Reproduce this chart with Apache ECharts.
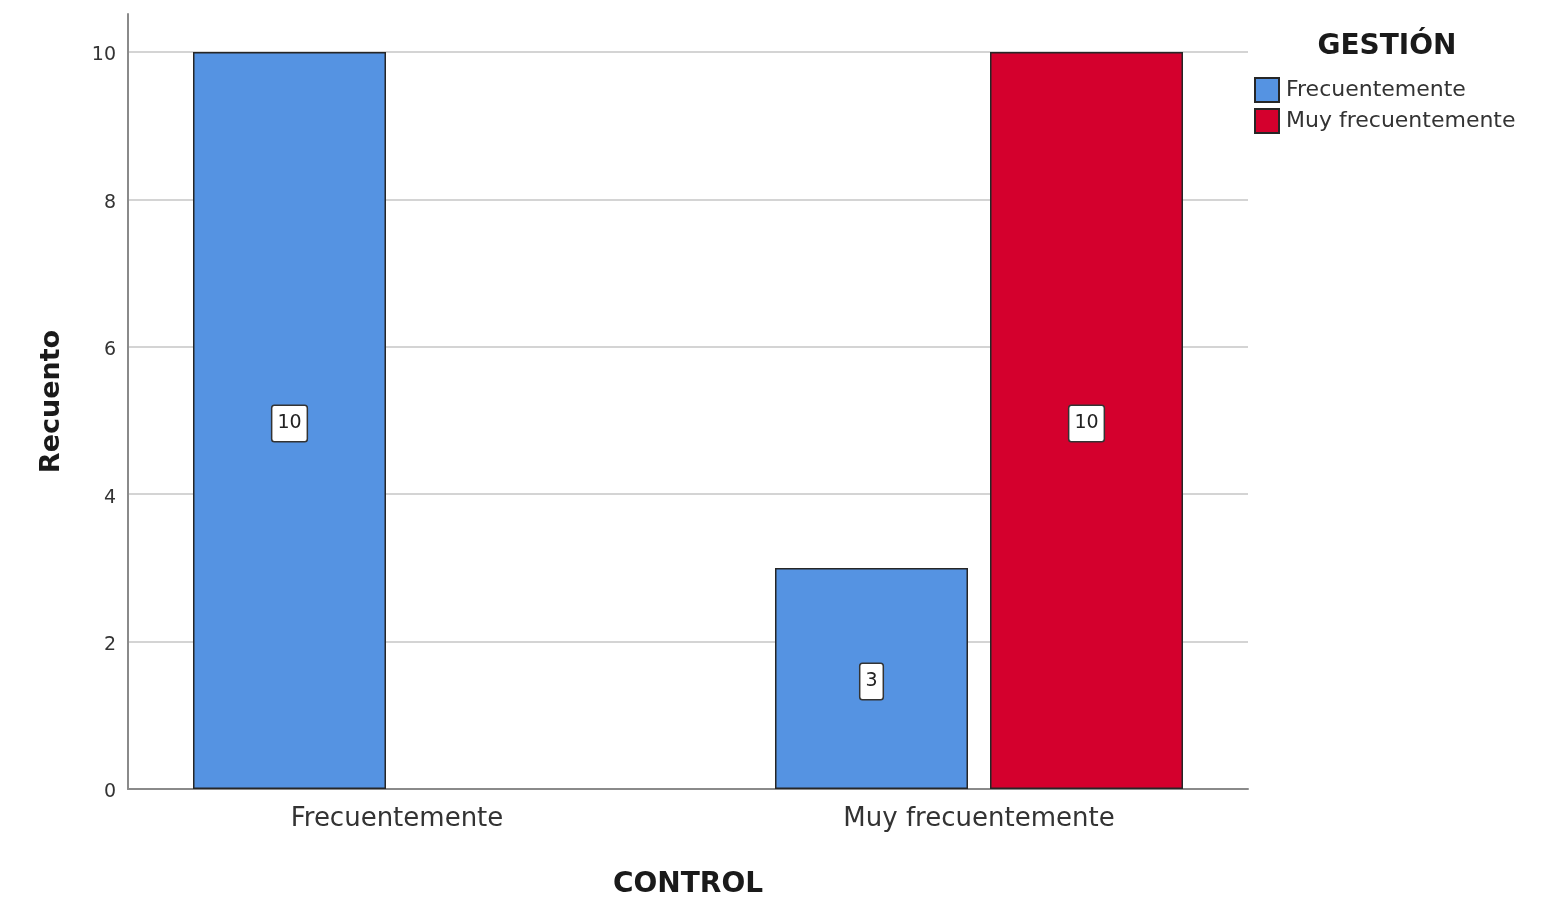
<!DOCTYPE html>
<html>
<head>
<meta charset="utf-8">
<script src="https://cdn.jsdelivr.net/npm/echarts@6/dist/echarts.min.js"></script>
<style>
  html, body { margin: 0; padding: 0; background: #ffffff; }
  #chart { width: 1555px; height: 897px; }
</style>
</head>
<body>
<div id="chart"></div>
<script>
// Categories of CONTROL (x axis) and counts per GESTIÓN group
const categories = ['Frecuentemente', 'Muy frecuentemente'];
const seriesNames = ['Frecuentemente', 'Muy frecuentemente'];
const countFrecuentemente = [10, 3];
const countMuyFrecuentemente = [null, 10];
const yMin = 0;
const yMax = 10;
const yStep = 2;

const FONT = 'DejaVu Sans';
const BORDER = '#262626';

const chart = echarts.init(document.getElementById('chart'), null, { renderer: 'canvas' });

const valueLabel = {
  show: true,
  position: 'inside',
  offset: [0, 3],
  color: '#222',
  fontFamily: FONT,
  fontSize: 19,
  backgroundColor: '#ffffff',
  borderColor: '#333',
  borderWidth: 1.5,
  borderRadius: 2,
  padding: [8, 5, 8, 5]
};

chart.setOption({
  backgroundColor: '#ffffff',
  animation: false,
  title: {
    text: 'GESTIÓN',
    left: 1382,
    top: 28,
    textAlign: 'center',
    textStyle: { fontFamily: FONT, fontWeight: 'bold', fontSize: 28, color: '#1a1a1a' }
  },
  legend: {
    orient: 'vertical',
    left: 1254,
    top: 77,
    padding: 0,
    itemWidth: 24,
    itemHeight: 24,
    itemGap: 5,
    icon: 'rect',
    data: seriesNames,
    textStyle: { fontFamily: FONT, fontSize: 22, lineHeight: 24, color: '#333', padding: [0, 0, 0, 2] }
  },
  grid: [
    // frame: axis lines and axis names
    { left: 128, width: 1120, top: 14, height: 775, outerBoundsMode: 'none', containLabel: false },
    // value scale: tick labels and grid lines
    { left: 128, width: 1120, top: 52, height: 737, outerBoundsMode: 'none', containLabel: false },
    // bars and category labels
    { left: 106, width: 1164, top: 52, height: 737, outerBoundsMode: 'none', containLabel: false }
  ],
  xAxis: [
    {
      gridIndex: 0, type: 'category', data: categories,
      axisLine: { show: true, lineStyle: { color: '#8a8a8a', width: 2 } },
      axisTick: { show: false }, axisLabel: { show: false }, splitLine: { show: false },
      name: 'CONTROL', nameLocation: 'middle', nameGap: 82,
      nameTextStyle: { fontFamily: FONT, fontWeight: 'bold', fontSize: 28, color: '#1a1a1a' }
    },
    {
      gridIndex: 1, type: 'category', data: categories, show: false
    },
    {
      gridIndex: 2, type: 'category', data: categories,
      axisLine: { show: false }, axisTick: { show: false },
      axisLabel: { show: true, margin: 17, fontFamily: FONT, fontSize: 26, color: '#333' },
      splitLine: { show: false }
    }
  ],
  yAxis: [
    {
      gridIndex: 0, type: 'value', min: 0, max: 1,
      axisLine: { show: true, lineStyle: { color: '#8a8a8a', width: 2 } },
      axisTick: { show: false }, axisLabel: { show: false }, splitLine: { show: false },
      name: 'Recuento', nameLocation: 'middle', nameGap: 63, nameRotate: 90,
      nameTextStyle: { fontFamily: FONT, fontWeight: 'bold', fontSize: 27, color: '#1a1a1a' }
    },
    {
      gridIndex: 1, type: 'value', min: yMin, max: yMax, interval: yStep,
      axisLine: { show: false }, axisTick: { show: false },
      axisLabel: {
        show: true, margin: 12,
        formatter: '{v|{value}}',
        rich: { v: { fontFamily: FONT, fontSize: 19, color: '#333', padding: [7, 0, 0, 0] } }
      },
      splitLine: { show: true, lineStyle: { color: '#d4d4d4', width: 2 } }
    },
    {
      gridIndex: 2, type: 'value', min: yMin, max: yMax, show: false
    }
  ],
  series: [
    {
      name: seriesNames[0], type: 'bar', xAxisIndex: 2, yAxisIndex: 2,
      data: countFrecuentemente,
      barWidth: 193, barGap: '11.4%',
      itemStyle: { color: '#5593e2', borderColor: BORDER, borderWidth: 1.5 },
      label: valueLabel
    },
    {
      name: seriesNames[1], type: 'bar', xAxisIndex: 2, yAxisIndex: 2,
      data: countMuyFrecuentemente,
      barWidth: 193, barGap: '11.4%',
      itemStyle: { color: '#d4002d', borderColor: BORDER, borderWidth: 1.5 },
      label: valueLabel
    }
  ]
});
</script>
</body>
</html>
